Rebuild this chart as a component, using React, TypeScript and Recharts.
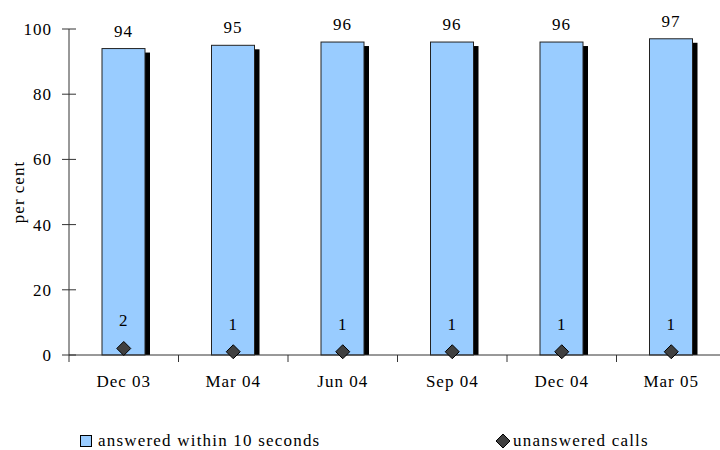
import { ComposedChart, Bar, Line, XAxis, YAxis, Legend, LabelList, Label } from 'recharts'

const categories = ['Dec 03', 'Mar 04', 'Jun 04', 'Sep 04', 'Dec 04', 'Mar 05']
const answered = [94, 95, 96, 96, 96, 97]
const unanswered = [2, 1, 1, 1, 1, 1]
const yTicks = [0, 20, 40, 60, 80, 100]

const data = categories.map((name, i) => ({
    name,
    answered: answered[i],
    unanswered: unanswered[i],
}))

const W = 730
const H = 450
const LEFT = 69
const RIGHT = 4
const BAND = (W - LEFT - RIGHT) / categories.length
const FONT = '"Liberation Serif", serif'
const TXT = { fontFamily: FONT, fontSize: 17, letterSpacing: 1, fill: '#000' }

const ShadowBar = (props: any) => {
    const { x, y, width, height } = props
    if (height <= 0) return null
    return (
        <g>
            <rect x={x + 5} y={y + 4} width={width} height={height - 4} fill="#000" />
            <rect x={x} y={y} width={width} height={height} fill="#99CCFF" stroke="#222" strokeWidth={1} />
        </g>
    )
}

const Diamond = (props: any) => {
    const { cx, cy } = props
    if (cx == null || cy == null) return null
    const r = 7
    return (
        <path
            d={`M${cx},${cy - r} L${cx + r},${cy} L${cx},${cy + r} L${cx - r},${cy} Z`}
            fill="#404040"
            stroke="#000"
            strokeWidth={1}
        />
    )
}

const YTick = ({ x, y, payload }: any) => (
    <g>
        <line x1={x - 7} x2={x + 7} y1={y} y2={y} stroke="#333" />
        <text x={x - 17} y={y} dy="0.35em" textAnchor="end" style={TXT}>{payload.value}</text>
    </g>
)

const XTick = ({ x, y, payload, index }: any) => (
    <g>
        <line x1={x - BAND / 2} x2={x - BAND / 2} y1={y} y2={y + 7} stroke="#333" />
        {index === categories.length - 1 && (
            <line x1={x + BAND / 2} x2={x + BAND / 2} y1={y} y2={y + 7} stroke="#333" />
        )}
        <text x={x} y={y + 26} dy="0.35em" textAnchor="middle" style={TXT}>{payload.value}</text>
    </g>
)

const LegendContent = () => (
    <div style={{ position: 'relative', height: 20, lineHeight: '20px', fontFamily: FONT, fontSize: 17, letterSpacing: 1.2 }}>
        <div style={{ position: 'absolute', left: 80, top: 0, height: 20, display: 'flex', alignItems: 'center' }}>
            <svg width={13} height={13} style={{ marginRight: 5 }}>
                <rect x={0.5} y={0.5} width={11} height={11} fill="#99CCFF" stroke="#000" />
            </svg>
            <span>answered within 10 seconds</span>
        </div>
        <div style={{ position: 'absolute', left: 495, top: 0, height: 20, display: 'flex', alignItems: 'center' }}>
            <svg width={16} height={16} style={{ marginRight: 2 }}>
                <path d="M8,1 L15,8 L8,15 L1,8 Z" fill="#404040" stroke="#000" />
            </svg>
            <span>unanswered calls</span>
        </div>
    </div>
)

export default function App() {
    return (
        <div style={{ position: 'absolute', left: 0, top: 0, width: 720, height: 450, overflow: 'hidden', background: '#fff' }}>
            <ComposedChart
                width={W}
                height={H}
                data={data}
                margin={{ top: 29, right: RIGHT, left: 0, bottom: 55 }}
            >
                <XAxis
                    dataKey="name"
                    height={40}
                    tickLine={false}
                    tickSize={0}
                    tickMargin={0}
                    stroke="#333"
                    tick={<XTick />}
                    interval={0}
                />
                <YAxis
                    width={LEFT}
                    domain={[0, 100]}
                    ticks={yTicks}
                    tickLine={false}
                    tickSize={0}
                    tickMargin={0}
                    stroke="#333"
                    tick={<YTick />}
                    interval={0}
                >
                    <Label
                        content={({ viewBox }: any) => (
                            <text
                                x={18}
                                y={viewBox.y + viewBox.height / 2}
                                transform={`rotate(-90, 18, ${viewBox.y + viewBox.height / 2})`}
                                textAnchor="middle"
                                dy="0.35em"
                                style={TXT}
                            >
                                per cent
                            </text>
                        )}
                    />
                </YAxis>
                <Legend
                    layout="horizontal"
                    verticalAlign="middle"
                    content={<LegendContent />}
                    wrapperStyle={{ left: 0, top: 431, width: 720, height: 20 }}
                />
                <Bar dataKey="answered" barSize={43} shape={<ShadowBar />} isAnimationActive={false}>
                    <LabelList dataKey="answered" position="top" offset={12} style={TXT} />
                </Bar>
                <Line
                    dataKey="unanswered"
                    stroke="none"
                    dot={<Diamond />}
                    activeDot={false}
                    isAnimationActive={false}
                >
                    <LabelList dataKey="unanswered" position="top" offset={22} style={TXT} />
                </Line>
            </ComposedChart>
        </div>
    )
}
